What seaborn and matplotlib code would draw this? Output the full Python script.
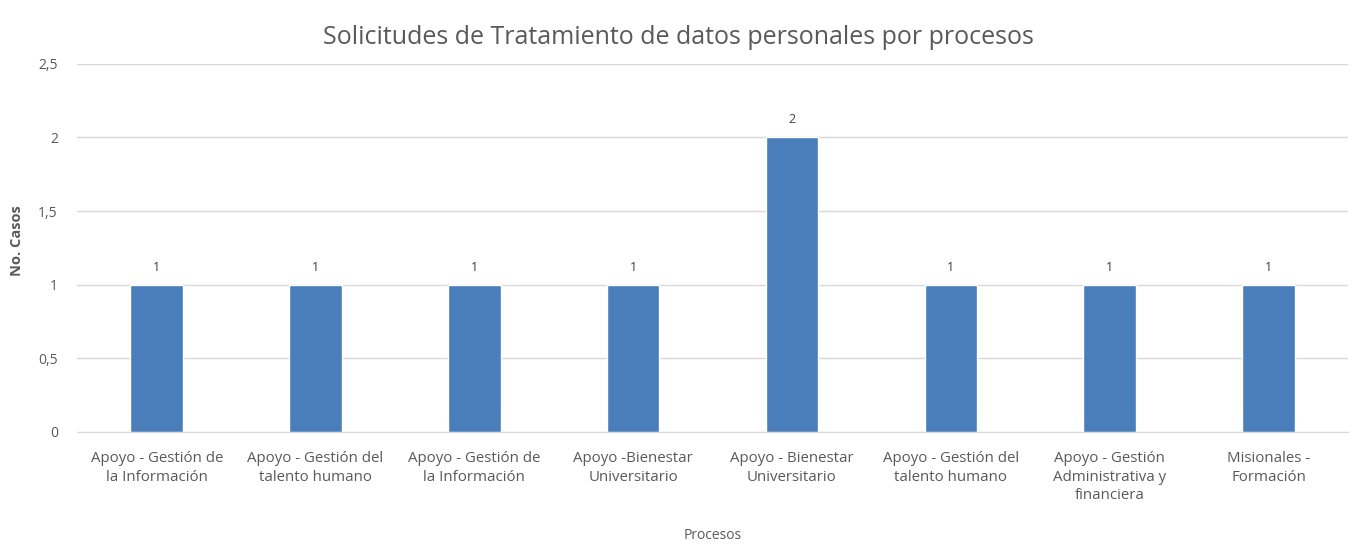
import matplotlib
matplotlib.use("Agg")
import matplotlib.pyplot as plt
import seaborn as sns
import pandas as pd

# datos
procesos = [
    "Apoyo - Gestión de\nla Información",
    "Apoyo - Gestión del\ntalento humano",
    "Apoyo - Gestión de\nla Información",
    "Apoyo -Bienestar\nUniversitario",
    "Apoyo - Bienestar\nUniversitario",
    "Apoyo - Gestión del\ntalento humano",
    "Apoyo - Gestión\nAdministrativa y\nfinanciera",
    "Misionales -\nFormación",
]
casos = [1, 1, 1, 1, 2, 1, 1, 1]
yticks = [0, 0.5, 1, 1.5, 2, 2.5]
ytick_labels = ["0", "0,5", "1", "1,5", "2", "2,5"]

df = pd.DataFrame({"pos": range(len(procesos)), "casos": casos})

sns.set_style("white")
plt.rcParams["font.family"] = ["Open Sans", "DejaVu Sans"]
gris = "#595959"

fig = plt.figure(figsize=(13.56, 5.46), dpi=100)
ax = fig.add_axes([0.057, 0.209, 0.937, 0.674])

sns.barplot(data=df, x="pos", y="casos", color="#4a7ebb", width=0.33,
            saturation=1, ax=ax)

for container in ax.containers:
    ax.bar_label(container, padding=8, fontsize=9, color="#404040")

ax.set_ylim(0, 2.5)
ax.set_yticks(yticks)
ax.set_yticklabels(ytick_labels, fontsize=10, color=gris)
ax.set_xticks(range(len(procesos)))
ax.set_xticklabels(procesos, fontsize=10.8, color=gris, linespacing=1.3)
ax.tick_params(axis="x", length=0, pad=14)
ax.tick_params(axis="y", length=0, pad=14)
ax.yaxis.grid(True, color="#d9d9d9", linewidth=1)
ax.set_axisbelow(True)
for s in ["top", "right", "left"]:
    ax.spines[s].set_visible(False)
ax.spines["bottom"].set_color("#d9d9d9")

ax.set_xlabel("Procesos", fontsize=10, color=gris)
ax.set_ylabel("No. Casos", fontsize=10.5, color=gris, fontweight="bold")
ax.yaxis.set_label_coords(-0.042, 0.52)
ax.xaxis.set_label_coords(0.5, -0.26)

fig.suptitle("Solicitudes de Tratamiento de datos personales por procesos",
             fontsize=18, color=gris, y=0.955)

fig.savefig("out.png", dpi=100)
